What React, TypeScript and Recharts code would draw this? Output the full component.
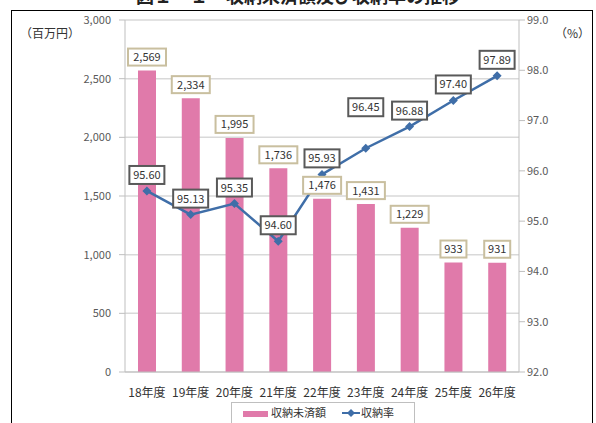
import React from "react";
import { ComposedChart, Bar, Line, XAxis, YAxis, CartesianGrid, LabelList } from "recharts";

const years = ["18年度", "19年度", "20年度", "21年度", "22年度", "23年度", "24年度", "25年度", "26年度"];
const unpaid = [2569, 2334, 1995, 1736, 1476, 1431, 1229, 933, 931];
const rate = [95.6, 95.13, 95.35, 94.6, 95.93, 96.45, 96.88, 97.4, 97.89];
const leftTicks = [0, 500, 1000, 1500, 2000, 2500, 3000];
const rightTicks = [92, 93, 94, 95, 96, 97, 98, 99];

const data = years.map((name, i) => ({ name, unpaid: unpaid[i], rate: rate[i] }));

const FONT = '"Noto Sans CJK JP", "Noto Sans", sans-serif';
const PINK = "#e07aaa";
const BLUE = "#3f6ea8";

// 23年度 label sits higher so it clears the bar label
const extraLift = (i: number) => (i === 5 ? 25 : 0);

const fmt = (v: number) => v.toLocaleString("en-US");

// eslint-disable-next-line @typescript-eslint/no-explicit-any
const BarLabel = (props: any) => {
  const { x, y, width, value } = props;
  const text = fmt(Number(value));
  const w = text.length * 6 + 8;
  const cx = Number(x) + Number(width) / 2;
  const top = Number(y) - 22;
  return (
    <g>
      <rect x={cx - w / 2} y={top} width={w} height={17} fill="#fff" stroke="#c9bf9f" strokeWidth={2} />
      <text x={cx} y={top + 12.5} textAnchor="middle" fontSize={11} fill="#333" fontFamily={FONT}>
        {text}
      </text>
    </g>
  );
};

// eslint-disable-next-line @typescript-eslint/no-explicit-any
const RateLabel = (props: any) => {
  const { x, y, value, index } = props;
  const text = Number(value).toFixed(2);
  const w = 35;
  const top = Number(y) - 25 - extraLift(index);
  return (
    <g>
      <rect x={Number(x) - w / 2} y={top} width={w} height={18} fill="#fff" stroke="#595959" strokeWidth={2} />
      <text x={Number(x)} y={top + 13} textAnchor="middle" fontSize={11} fill="#333" fontFamily={FONT}>
        {text}
      </text>
    </g>
  );
};

// eslint-disable-next-line @typescript-eslint/no-explicit-any
const Diamond = (props: any) => {
  const { cx, cy, index } = props;
  const s = 4.5;
  return (
    <polygon
      key={`d-${index}`}
      points={`${cx},${cy - s} ${cx + s},${cy} ${cx},${cy + s} ${cx - s},${cy}`}
      fill={BLUE}
    />
  );
};

const tickStyle = { fontSize: 11, fill: "#595959", fontFamily: FONT };

export default function App() {
  return (
    <div style={{ position: "absolute", left: 0, top: 0, width: 596, height: 423, background: "#fff", overflow: "hidden", fontFamily: FONT }}>
      <div style={{ position: "absolute", left: 0, width: 596, top: -15, textAlign: "center", fontSize: 18, fontWeight: "bold", lineHeight: "20px", color: "#222" }}>
        図１－１　収納未済額及び収納率の推移
      </div>
      <div style={{ position: "absolute", left: 11, top: 10, width: 580, height: 430, border: "1px solid #000" }} />
      <div style={{ position: "absolute", left: 20, top: 24, fontSize: 12, color: "#333" }}>（百万円）</div>
      <div style={{ position: "absolute", left: 555, top: 24, fontSize: 12, color: "#333" }}>（%）</div>

      <div style={{ position: "absolute", left: 0, top: 0 }}>
        <ComposedChart width={596} height={423} data={data} margin={{ top: 20, right: 0, left: 0, bottom: 0 }}>
          <CartesianGrid yAxisId="left" vertical={false} stroke="#d9d9d9" strokeWidth={1.5} />
          <XAxis
            dataKey="name"
            height={51}
            tick={{ ...tickStyle, fontSize: 12, fill: "#333" }}
            tickLine={false}
            axisLine={{ stroke: "#bfbfbf" }}
            tickMargin={10}
            interval={0}
          />
          <YAxis
            yAxisId="left"
            width={125}
            domain={[0, 3000]}
            ticks={leftTicks}
            tickFormatter={fmt}
            tick={tickStyle}
            axisLine={{ stroke: "#bfbfbf" }}
            tickLine={{ stroke: "#bfbfbf" }}
            tickMargin={8}
          />
          <YAxis
            yAxisId="right"
            orientation="right"
            width={77}
            domain={[92, 99]}
            ticks={rightTicks}
            tickFormatter={(v: number) => v.toFixed(1)}
            tick={tickStyle}
            axisLine={{ stroke: "#bfbfbf" }}
            tickLine={{ stroke: "#bfbfbf" }}
            tickMargin={2}
          />
          <Bar yAxisId="left" dataKey="unpaid" fill={PINK} barSize={18} isAnimationActive={false}>
            <LabelList dataKey="unpaid" content={BarLabel} />
          </Bar>
          <Line
            yAxisId="right"
            dataKey="rate"
            type="linear"
            stroke={BLUE}
            strokeWidth={2.5}
            dot={Diamond}
            activeDot={false}
            isAnimationActive={false}
          >
            <LabelList dataKey="rate" content={RateLabel} />
          </Line>
        </ComposedChart>
      </div>

      <div style={{ position: "absolute", left: 231, top: 402, width: 182, height: 30, border: "1px solid #bfbfbf", background: "#fff" }}>
        <div style={{ position: "absolute", left: 11, top: 8, width: 25, height: 6, background: PINK }} />
        <div style={{ position: "absolute", left: 39, top: 1, fontSize: 11, color: "#333" }}>収納未済額</div>
        <svg style={{ position: "absolute", left: 110, top: 5 }} width={18} height={10}>
          <line x1={0} y1={5} x2={18} y2={5} stroke={BLUE} strokeWidth={2} />
          <polygon points="9,1 13,5 9,9 5,5" fill={BLUE} />
        </svg>
        <div style={{ position: "absolute", left: 129, top: 1, fontSize: 11, color: "#333" }}>収納率</div>
      </div>
    </div>
  );
}
